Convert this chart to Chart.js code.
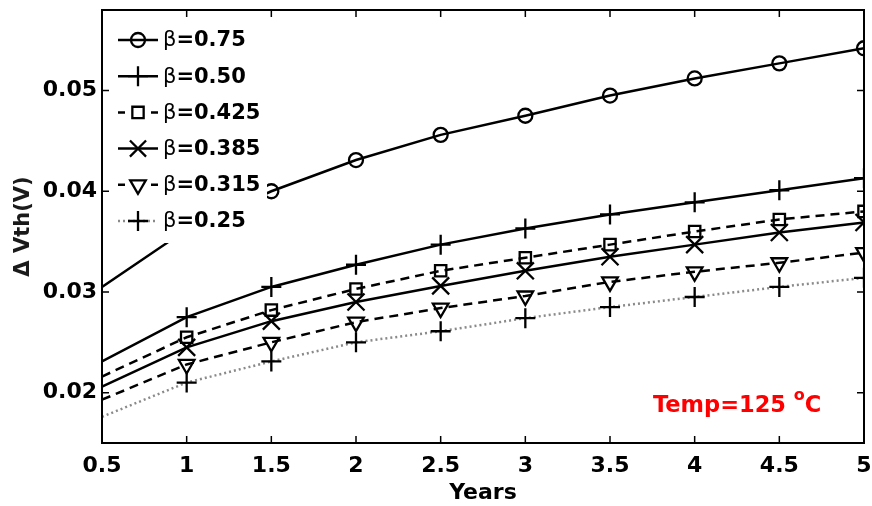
<!DOCTYPE html>
<html>
<head>
<meta charset="utf-8">
<script src="https://cdn.jsdelivr.net/npm/chart.js@4.4.1/dist/chart.umd.min.js"></script>
<style>
html,body{margin:0;padding:0;background:#fff;}
#wrap{width:872px;height:506px;position:relative;}
</style>
</head>
<body>
<div id="wrap"><canvas id="c" width="872" height="506"></canvas></div>
<script>
const years = [0.5, 1, 1.5, 2, 2.5, 3, 3.5, 4, 4.5, 5];
const beta075  = [0.0305, 0.0362, 0.0400, 0.0431, 0.0456, 0.0475, 0.0495, 0.0512, 0.0527, 0.0542];
const beta050  = [0.0231, 0.0275, 0.0305, 0.0327, 0.0347, 0.0363, 0.0377, 0.0389, 0.0401, 0.0413];
const beta0425 = [0.0216, 0.0255, 0.0282, 0.0303, 0.0321, 0.0334, 0.0347, 0.0360, 0.0372, 0.0380];
const beta0385 = [0.0206, 0.0245, 0.0271, 0.0290, 0.0306, 0.0321, 0.0335, 0.0347, 0.0359, 0.0369];
const beta0315 = [0.0193, 0.0228, 0.0250, 0.0270, 0.0284, 0.0296, 0.0310, 0.0320, 0.0329, 0.0339];
const beta025  = [0.0176, 0.0210, 0.0231, 0.0250, 0.0261, 0.0274, 0.0285, 0.0295, 0.0305, 0.0314];
const seriesLabels = ['0.75', '0.50', '0.425', '0.385', '0.315', '0.25'];
const xTicks = [0.5, 1, 1.5, 2, 2.5, 3, 3.5, 4, 4.5, 5];
const yTicks = [0.02, 0.03, 0.04, 0.05];

const FONT = "'DejaVu Sans', sans-serif";

const styles = [
  {color:'#000', dash:[], style:'circle', r:7, rot:0},
  {color:'#000', dash:[], style:'cross', r:10, rot:0},
  {color:'#000', dash:[9,6], style:'rect', r:8, rot:0},
  {color:'#000', dash:[], style:'crossRot', r:12, rot:0},
  {color:'#000', dash:[9,6], style:'triangle', r:9, rot:180},
  {color:'#8a8a8a', dash:[2,3], style:'cross', r:10, rot:0, pointColor:'#000'}
];
const allSeries = [beta075, beta050, beta0425, beta0385, beta0315, beta025];

const datasets = allSeries.map((vals, i) => {
  const s = styles[i];
  return {
    label: '\u03b2=' + seriesLabels[i],
    data: years.map((x, j) => ({x: x, y: vals[j]})),
    borderColor: s.color,
    borderWidth: 2.5,
    borderDash: s.dash,
    backgroundColor: 'rgba(0,0,0,0)',
    pointBorderColor: s.pointColor || '#000',
    pointBackgroundColor: 'rgba(0,0,0,0)',
    pointBorderWidth: 2.3,
    pointStyle: s.style,
    pointRotation: s.rot,
    pointRadius: ctx => ctx.dataIndex === 0 ? 0 : s.r,
    pointHoverRadius: ctx => ctx.dataIndex === 0 ? 0 : s.r,
    tension: 0,
    fill: false,
    clip: 0
  };
});

function drawMarker(ctx, style, x, y, r, rot) {
  ctx.beginPath();
  if (style === 'circle') {
    ctx.arc(x, y, r, 0, Math.PI * 2);
  } else if (style === 'cross') {
    ctx.moveTo(x - r, y); ctx.lineTo(x + r, y);
    ctx.moveTo(x, y - r); ctx.lineTo(x, y + r);
  } else if (style === 'crossRot') {
    const d = r * Math.SQRT1_2;
    ctx.moveTo(x - d, y - d); ctx.lineTo(x + d, y + d);
    ctx.moveTo(x + d, y - d); ctx.lineTo(x - d, y + d);
  } else if (style === 'rect') {
    const h = r * Math.SQRT1_2;
    ctx.rect(x - h, y - h, 2 * h, 2 * h);
  } else if (style === 'triangle') {
    const a0 = (rot || 0) * Math.PI / 180;
    for (let k = 0; k < 3; k++) {
      const a = a0 + k * 2 * Math.PI / 3;
      const px = x + Math.sin(a) * r, py = y - Math.cos(a) * r;
      if (k === 0) ctx.moveTo(px, py); else ctx.lineTo(px, py);
    }
    ctx.closePath();
  }
  ctx.stroke();
}

const framePlugin = {
  id: 'frame',
  afterDatasetsDraw(chart) {
    const ctx = chart.ctx;
    const a = chart.chartArea;
    const xs = chart.scales.x, ys = chart.scales.y;
    ctx.save();
    // legend box
    ctx.fillStyle = '#fff';
    ctx.fillRect(a.left + 2, a.top + 2, 163, 231);
    const rowY0 = 40, rowStep = 36.2;
    chart.data.datasets.forEach((ds, i) => {
      const s = styles[i];
      const y = rowY0 + i * rowStep;
      ctx.strokeStyle = s.color;
      ctx.lineWidth = 2.5;
      ctx.setLineDash(s.dash.length ? (i === 5 ? [2,3] : [7,5]) : []);
      ctx.beginPath();
      if (i === 2 || i === 4) {
        ctx.moveTo(118, y); ctx.lineTo(125, y);
        ctx.moveTo(151, y); ctx.lineTo(158, y);
      } else {
        ctx.moveTo(118, y); ctx.lineTo(158, y);
      }
      ctx.stroke();
      ctx.setLineDash([]);
      ctx.strokeStyle = '#000';
      ctx.lineWidth = 2.3;
      drawMarker(ctx, s.style, 138, y, s.r * (s.style === 'crossRot' ? 0.95 : 1), s.rot);
      ctx.fillStyle = '#000';
      ctx.textBaseline = 'middle';
      ctx.textAlign = 'left';
      ctx.font = "21px " + FONT;
      ctx.fillText('\u03b2', 163, y + 1);
      const bw = ctx.measureText('\u03b2').width;
      ctx.font = "bold 21px " + FONT;
      ctx.fillText('=' + seriesLabels[i], 163 + bw, y + 1);
    });
    // frame
    ctx.strokeStyle = '#000';
    ctx.lineWidth = 2;
    ctx.strokeRect(a.left, a.top, a.right - a.left, a.bottom - a.top);
    // inward ticks
    ctx.lineWidth = 1.5;
    ctx.beginPath();
    const tl = 7;
    xTicks.forEach(v => {
      const px = xs.getPixelForValue(v);
      ctx.moveTo(px, a.bottom); ctx.lineTo(px, a.bottom - tl);
      ctx.moveTo(px, a.top); ctx.lineTo(px, a.top + tl);
    });
    yTicks.forEach(v => {
      const py = ys.getPixelForValue(v);
      ctx.moveTo(a.left, py); ctx.lineTo(a.left + tl, py);
      ctx.moveTo(a.right, py); ctx.lineTo(a.right - tl, py);
    });
    ctx.stroke();
    // annotation
    ctx.fillStyle = '#ff0000';
    ctx.textBaseline = 'alphabetic';
    ctx.textAlign = 'left';
    ctx.font = "bold 22.5px " + FONT;
    let tx = 653, ty = 412;
    const t1 = 'Temp=125 ';
    ctx.fillText(t1, tx, ty);
    tx += ctx.measureText(t1).width;
    ctx.font = "bold 16px " + FONT;
    ctx.fillText('o', tx, ty - 12);
    tx += ctx.measureText('o').width;
    ctx.font = "bold 22.5px " + FONT;
    ctx.fillText('C', tx, ty);
    ctx.restore();
  }
};

new Chart(document.getElementById('c'), {
  type: 'line',
  data: { datasets: datasets },
  options: {
    responsive: false,
    animation: false,
    devicePixelRatio: 1,
    layout: { autoPadding: false, padding: { left: 0, right: 8, top: 10, bottom: 0 } },
    plugins: { legend: { display: false }, tooltip: { enabled: false } },
    scales: {
      x: {
        type: 'linear',
        min: 0.5, max: 5,
        afterBuildTicks: s => { s.ticks = xTicks.map(v => ({value: v})); },
        afterFit: s => { s.height = 63; s.paddingLeft = 0; s.paddingRight = 0; },
        grid: { display: false, drawTicks: false },
        border: { display: false },
        ticks: {
          padding: 10,
          color: '#000',
          font: { family: FONT, size: 22, weight: 'bold' },
          callback: v => String(v),
          maxRotation: 0, autoSkip: false
        },
        title: {
          display: true, text: 'Years', color: '#000',
          font: { family: FONT, size: 22, weight: 'bold' },
          padding: { top: 0, bottom: 0 }
        }
      },
      y: {
        type: 'linear',
        min: 0.015, max: 0.058,
        afterBuildTicks: s => { s.ticks = yTicks.map(v => ({value: v})); },
        afterFit: s => { s.width = 102; s.paddingTop = 0; s.paddingBottom = 0; },
        grid: { display: false, drawTicks: false },
        border: { display: false },
        ticks: {
          padding: 5,
          color: '#000',
          font: { family: FONT, size: 22, weight: 'bold' },
          callback: v => v.toFixed(2)
        },
        title: {
          display: true, text: '\u0394 Vth(V)', color: '#1a1a1a',
          font: { family: FONT, size: 21, weight: 'bold' },
          padding: { top: 11, bottom: 0 }
        }
      }
    }
  },
  plugins: [framePlugin]
});
</script>
</body>
</html>
